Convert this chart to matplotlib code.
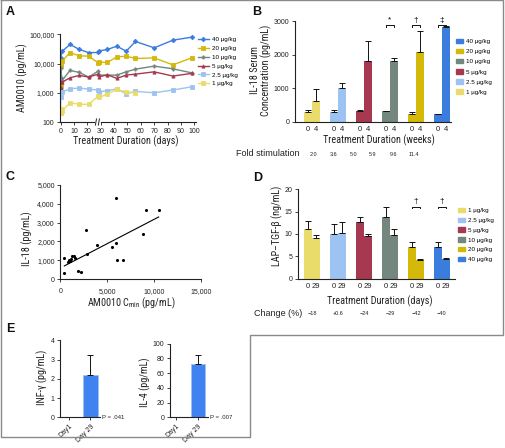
import numpy as np
import matplotlib
matplotlib.use("Agg")
import matplotlib.pyplot as plt
from matplotlib.ticker import FuncFormatter, NullLocator
from matplotlib.lines import Line2D
from matplotlib.patches import Patch
from matplotlib import font_manager as fm
import matplotlib.transforms as mtrans

# ---------------- data ----------------
# Panel A: AM0010 concentration over time (pg/mL)
days_a = [0, 0, 1, 7, 14, 21, 28, 29, 35, 42, 49, 56, 70, 84, 98]
a_40 = [3100, 16000, 26000, 44900, 30300, 23600, 23900, 27100, 30300, 39300, 26500, 56800, 34400, 63000, 79600]
a_20 = [1800, 9000, 12000, 23600, 18300, 17900, 10600, 11100, 10900, 16800, 17900, 14900, 15600, 9000, 15600]
a_10 = [1500, 7000, 2600, 5800, 4960, 3430, 5500, 4020, 4020, 4020, 5200, 6440, 8150, 6600, 4800]
a_5 = [1500, 2400, 2300, 3250, 3930, 3430, 4340, 3520, 4120, 3100, 4020, 4340, 5200, 3720, 4590]
a_25 = [200, 700, 1050, 1370, 1450, 1330, 1240, 1080, 1170, 1370, 925, 1110, 1000, 1240, 1600]
a_1 = [200, 280, 240, 456, 402, 402, 771, 695, 904, 1300, 1080, 1000, np.nan, np.nan, np.nan]
a_ticks_x = [0, 10, 20, 30, 40, 50, 60, 70, 80, 90, 100]
a_ticks_y = [100, 1000, 10000, 100000]

dose_labels = ['1 µg/kg', '2.5 µg/kg', '5 µg/kg', '10 µg/kg', '20 µg/kg', '40 µg/kg']

# Panel B: IL-18 serum concentration (pg/mL), week 0 and week 4
b_wk0 = [295, 275, 330, 310, 220, 220]
b_wk0_err = [65, 70, 30, 15, 70, 20]
b_wk4 = [610, 1000, 1800, 1800, 2080, 2840]
b_wk4_err = [370, 165, 600, 110, 640, 15]
b_week_labels = ['0', '4']
b_sig = {3: '*', 4: '†', 5: '‡'}
fold_stim = ['2.0', '3.6', '5.0', '5.9', '9.6', '11.4']

# Panel C: IL-18 vs AM0010 Cmin
c_x = [426, 426, 853, 960, 1066, 1137, 1279, 1457, 1600, 1919, 2203, 2736, 2879,
       3874, 5473, 5935, 5935, 6006, 6681, 8814, 9134, 10484]
c_y = [1123, 303, 927, 1034, 980, 1070, 1248, 1212, 1141, 446, 374, 2620, 1319,
       1818, 1676, 4314, 1890, 1016, 1016, 2389, 3654, 3654]
c_fit_slope = 0.2588
c_fit_intercept = 585

# Panel D: LAP-TGF-beta (ng/mL), day 0 and day 29
d_day0 = [11.1, 10.1, 12.6, 13.7, 7.2, 7.2]
d_day0_err = [1.9, 2.2, 1.3, 2.3, 1.0, 1.0]
d_day29 = [9.0, 10.2, 9.6, 9.8, 4.2, 4.4]
d_day29_err = [0.75, 2.5, 0.5, 1.25, 0.2, 0.2]
d_day_labels = ['0', '29']
d_sig = {4: '†', 5: '†'}
change_pct = ['−18', '+0.6', '−24', '−29', '−42', '−40']

# Panel E
e_labels = ['Day1', 'Day 29']
e_ifn = [0, 2.22]
e_ifn_err = [0, 1.0]
e_il4 = [0, 72]
e_il4_err = [0, 12]

# ---------------- style ----------------
names = {f.name for f in fm.fontManager.ttflist}
NARROW = 'Liberation Sans'
for cand in ['Liberation Sans Narrow', 'Roboto Condensed', 'Open Sans Condensed']:
    if cand in names:
        NARROW = cand
        break
plt.rcParams['font.family'] = ['Liberation Sans', 'DejaVu Sans']
plt.rcParams['mathtext.fontset'] = 'custom'
plt.rcParams['mathtext.rm'] = NARROW
plt.rcParams['mathtext.it'] = NARROW

cols = ['#e9dc6b', '#9cc3f2', '#a6394f', '#73877f', '#d4b90a', '#3b7ddd']
markers = ['s', 's', '^', 'P', 's', 'D']

W, H = 505, 448
fig = plt.figure(figsize=(W / 100, H / 100), dpi=100)


def add_ax(l, t, r, b):
    return fig.add_axes([l / W, 1 - b / H, (r - l) / W, (b - t) / H])


def fx(x):
    return x / W


def fy(y):
    return 1 - y / H


def style(ax, ls=5):
    for s in ['top', 'right']:
        ax.spines[s].set_visible(False)
    for s in ['left', 'bottom']:
        ax.spines[s].set_linewidth(0.8)
        ax.spines[s].set_color('#222222')
    ax.tick_params(direction='out', length=2.5, width=0.6, labelsize=ls, pad=1.5, colors='#222222')
    ax.patch.set_alpha(0)


comma = FuncFormatter(lambda v, p: f'{int(v):,}')
LBL_SIZE = 7.3 if NARROW != 'Liberation Sans' else 6.5
LBL = dict(family=NARROW, fontsize=LBL_SIZE, color='#222222')

# ---------------- Panel A ----------------
axA = add_ax(60, 34.3, 196.3, 122)
style(axA)
axA.set_yscale('log')
series_a = [(a_40, 5), (a_20, 4), (a_10, 3), (a_5, 2), (a_25, 1), (a_1, 0)]
for vals, k in series_a:
    axA.plot(days_a, vals, color=cols[k], marker=markers[k], ms=2.3, lw=1.0,
             mew=0.6, label=dose_labels[k])
axA.set_ylim(100, 100000)
axA.set_xlim(-0.5, 101.5)
axA.set_xticks(a_ticks_x)
axA.set_yticks(a_ticks_y)
axA.yaxis.set_major_formatter(comma)
axA.yaxis.set_minor_locator(NullLocator())
# axis break
trA = mtrans.blended_transform_factory(axA.transData, axA.transAxes)
axA.plot([26.6, 28.6], [0, 0], color='white', lw=2.0, transform=trA, clip_on=False, zorder=5)
for xb in (26.4, 28.6):
    axA.plot([xb - 0.4, xb + 0.4], [-0.035, 0.035], color='#222222', lw=0.7,
             transform=trA, clip_on=False, zorder=6)
axA.legend(loc='upper left', bbox_to_anchor=(fx(198), fy(37)), bbox_transform=fig.transFigure,
           frameon=False, fontsize=4.5, handlelength=1.7, handletextpad=0.6,
           labelspacing=0.55, borderpad=0, borderaxespad=0)
fig.text(fx(22), fy(78), 'AM0010 (pg/mL)', rotation=90, ha='center', va='center', **LBL)
fig.text(fx(126), fy(141), 'Treatment Duration (days)', ha='center', va='center', **LBL)

# ---------------- Panel B ----------------
off, bw = 0.155, 0.31
ekw = dict(ecolor='#111111', elinewidth=0.7, capsize=2.0, capthick=0.7)
axB = add_ax(295, 21.3, 451, 121.7)
style(axB)
xg = np.arange(len(b_wk0))
axB.bar(xg - off, b_wk0, bw, color=cols, yerr=[np.zeros(6), b_wk0_err], error_kw=ekw)
axB.bar(xg + off, b_wk4, bw, color=cols, yerr=[np.zeros(6), b_wk4_err], error_kw=ekw)
axB.set_xlim(-0.654, 5.35)
axB.set_ylim(0, 3000)
axB.set_yticks([0, 1000, 2000, 3000])
axB.set_xticks(np.concatenate([xg - off, xg + off]))
axB.set_xticklabels([b_week_labels[0]] * 6 + [b_week_labels[1]] * 6, fontsize=5.5)
axB.tick_params(axis='x', length=0, pad=3)
for i, sym in b_sig.items():
    yb = 2890
    axB.plot([i - off, i - off, i + off, i + off], [yb - 50, yb, yb, yb - 50],
             color='#111111', lw=0.7, clip_on=False)
    axB.text(i, yb + 40, sym, ha='center', va='bottom', fontsize=6)
axB.legend(handles=[Patch(color=cols[k], label=dose_labels[k]) for k in range(5, -1, -1)],
           loc='upper left', bbox_to_anchor=(fx(456), fy(39)), bbox_transform=fig.transFigure,
           frameon=False, fontsize=4.5, handlelength=1.1, handleheight=0.7, handletextpad=0.5,
           labelspacing=0.75, borderpad=0, borderaxespad=0)
fig.text(fx(261), fy(70), 'IL-18 Serum\nConcentration (pg/mL)', rotation=90, ha='center',
         va='center', linespacing=1.15, **LBL)
fig.text(fx(379), fy(140), 'Treatment Duration (weeks)', ha='center', va='center', **LBL)
fig.text(fx(236), fy(153), 'Fold stimulation', ha='left', va='center', fontsize=6.5, color='#222222')
for xp, s in zip([313, 334, 354, 373, 394, 414], fold_stim):
    fig.text(fx(xp), fy(154), s, ha='center', va='center', fontsize=4, color='#222222')

# ---------------- Panel C ----------------
axC = add_ax(60.3, 185, 201, 279)
style(axC)
axC.scatter(c_x, c_y, s=5, color='black', zorder=3, linewidths=0)
xs = np.array([min(c_x), max(c_x)])
axC.plot(xs, c_fit_slope * xs + c_fit_intercept, color='black', lw=0.8)
axC.set_xlim(0, 15000)
axC.set_ylim(0, 5000)
axC.set_xticks([0, 5000, 10000, 15000])
axC.set_yticks([0, 1000, 2000, 3000, 4000, 5000])
axC.xaxis.set_major_formatter(comma)
axC.yaxis.set_major_formatter(comma)
axC.tick_params(axis='x', pad=4)
fig.text(fx(27), fy(239), 'IL-18 (pg/mL)', rotation=90, ha='center', va='center', **LBL)
fig.text(fx(131), fy(303), 'AM0010 C$_{\\mathrm{min}}$ (pg/mL)', ha='center', va='center', **LBL)

# ---------------- Panel D ----------------
axD = add_ax(297.7, 189.3, 455, 278.7)
style(axD)
axD.bar(xg - off, d_day0, bw, color=cols, yerr=[np.zeros(6), d_day0_err], error_kw=ekw)
axD.bar(xg + off, d_day29, bw, color=cols, yerr=[np.zeros(6), d_day29_err], error_kw=ekw)
axD.set_xlim(-0.55, 5.5)
axD.set_ylim(0, 20)
axD.set_yticks([0, 5, 10, 15, 20])
axD.set_xticks(np.concatenate([xg - off, xg + off]))
axD.set_xticklabels([d_day_labels[0]] * 6 + [d_day_labels[1]] * 6, fontsize=5.5)
axD.tick_params(axis='x', length=0, pad=3)
for i, sym in d_sig.items():
    yb = 16.1
    axD.plot([i - off, i - off, i + off, i + off], [yb - 0.35, yb, yb, yb - 0.35],
             color='#111111', lw=0.7, clip_on=False)
    axD.text(i, yb + 0.3, sym, ha='center', va='bottom', fontsize=6)
axD.legend(handles=[Patch(color=cols[k], label=dose_labels[k]) for k in range(6)],
           loc='upper left', bbox_to_anchor=(fx(458), fy(208)), bbox_transform=fig.transFigure,
           frameon=False, fontsize=4.5, handlelength=1.1, handleheight=0.7, handletextpad=0.5,
           labelspacing=0.7, borderpad=0, borderaxespad=0)
fig.text(fx(277), fy(226), 'LAP–TGF-β (ng/mL)', rotation=90, ha='center', va='center', **LBL)
fig.text(fx(380), fy(301), 'Treatment Duration (days)', ha='center', va='center', **LBL)
fig.text(fx(254), fy(313), 'Change (%)', ha='left', va='center', fontsize=6.5, color='#222222')
trD = mtrans.blended_transform_factory(axD.transData, fig.transFigure)
for i, s in enumerate(change_pct):
    axD.text(i, fy(313), s, transform=trD, ha='center', va='center', fontsize=4, color='#222222')

# ---------------- Panel E ----------------
ebar = dict(color='#3f82f0', edgecolor='#9cc3f5', linewidth=0.6)
axE1 = add_ax(60, 340.3, 100, 417.3)
style(axE1)
axE1.bar([0, 1], e_ifn, 0.67, yerr=[[0, 0], e_ifn_err], error_kw=ekw, **ebar)
axE1.set_xlim(-0.419, 1.442)
axE1.set_ylim(0, 4)
axE1.set_yticks([0, 1, 2, 3, 4])
axE1.set_xticks([0, 1])
axE1.set_xticklabels(e_labels, rotation=45, ha='right', rotation_mode='anchor', fontsize=5)
axE2 = add_ax(170, 343.5, 208, 417.3)
style(axE2)
axE2.bar([0, 1], e_il4, 0.67, yerr=[[0, 0], e_il4_err], error_kw=ekw, **ebar)
axE2.set_xlim(-0.302, 1.465)
axE2.set_ylim(0, 100)
axE2.set_yticks([0, 20, 40, 60, 80, 100])
axE2.set_xticks([0, 1])
axE2.set_xticklabels(e_labels, rotation=45, ha='right', rotation_mode='anchor', fontsize=5)
fig.text(fx(102), fy(417), 'P = .041', ha='left', va='center', fontsize=4.3, color='#222222')
fig.text(fx(210), fy(417), 'P = .007', ha='left', va='center', fontsize=4.3, color='#222222')
fig.text(fx(42), fy(377), 'INF-γ (pg/mL)', rotation=90, ha='center', va='center', **LBL)
fig.text(fx(145), fy(382), 'IL-4 (pg/mL)', rotation=90, ha='center', va='center', **LBL)

# ---------------- panel letters & frame ----------------
for x, y, s in [(10, 12, 'A'), (257, 12, 'B'), (10, 177, 'C'), (258, 178, 'D'), (10, 329, 'E')]:
    fig.text(fx(x), fy(y), s, ha='center', va='center', fontsize=9, fontweight='bold', color='#111111')

frame_x = [1, 502.5, 502.5, 250, 250, 1, 1]
frame_y = [0.5, 0.5, 335, 335, 437, 437, 0.5]
fig.add_artist(Line2D([fx(v) for v in frame_x], [fy(v) for v in frame_y], color='#8a8a8a', lw=1.0))

fig.savefig('out.png', dpi=100)
